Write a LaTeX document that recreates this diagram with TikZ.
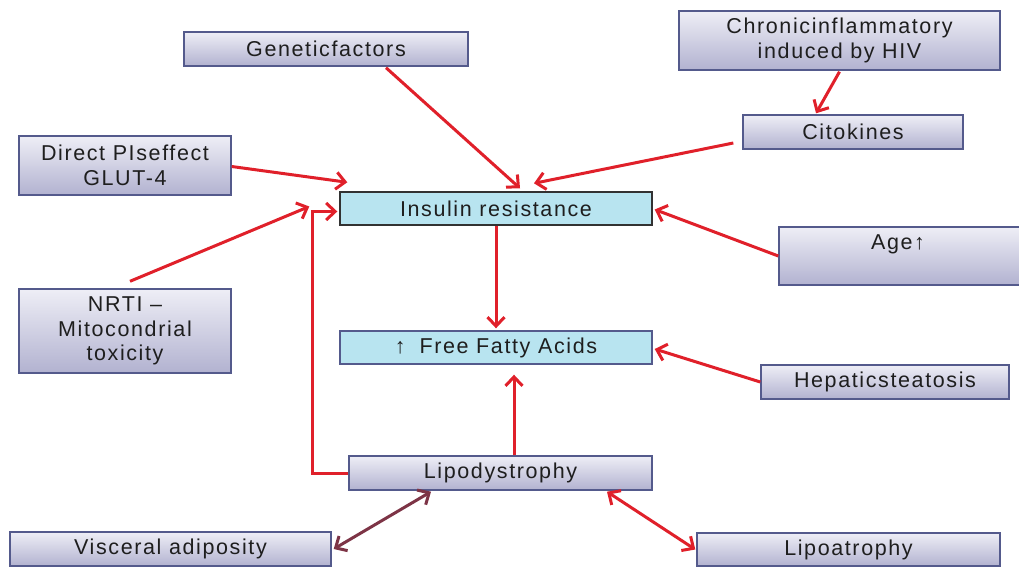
\documentclass[tikz,border=0pt]{standalone}
\usepackage{fontspec}
\setmainfont[LetterSpace=7.5]{Liberation Sans}
\usetikzlibrary{arrows.meta}
\definecolor{arrred}{RGB}{224,32,42}
\definecolor{maroonc}{RGB}{125,52,70}
\definecolor{boxtop}{RGB}{238,238,246}
\definecolor{boxbot}{RGB}{178,178,208}
\definecolor{boxline}{RGB}{84,90,140}
\definecolor{cyanfill}{RGB}{184,228,240}
\definecolor{txt}{RGB}{30,30,30}
\tikzset{
  pbox/.style={draw=boxline, line width=1.4pt, top color=boxtop, bottom color=boxbot,
    inner sep=0pt, align=center, text=txt, font=\fontsize{21.5}{24.5}\selectfont},
  cbox/.style={fill=cyanfill, line width=1.4pt, inner sep=0pt, align=center, text=txt,
    font=\fontsize{21.5}{24.5}\selectfont},
  link/.style={draw=arrred, line width=3pt, -{Straight Barb[length=9pt,width=17pt,line width=3pt]}},
  dlink/.style={link, {Straight Barb[length=9pt,width=17pt,line width=3pt]}-{Straight Barb[length=9pt,width=17pt,line width=3pt]}}
}
\begin{document}
\begin{tikzpicture}[x=1pt,y=-1pt]
\useasboundingbox (0,0) rectangle (1019,567);
% nodes
\node[pbox, minimum width=284pt, minimum height=34pt] (gen) at (326,49) {Geneticfactors};
\node[pbox, minimum width=321pt, minimum height=59pt] (chr) at (839.5,40.5) {Chronicinflammatory\\induced by HIV};
\node[pbox, minimum width=220pt, minimum height=34pt] (cyt) at (853,132) {Citokines};
\node[pbox, minimum width=212pt, minimum height=59pt] (pis) at (125,165.5) {Direct PIseffect\\GLUT-4};
\node[cbox, draw={rgb,255:red,50;green,50;blue,50}, minimum width=312pt, minimum height=33pt] (ins) at (496,208.5) {Insulin resistance};
\node[pbox, minimum width=242pt, minimum height=58pt] (age) at (900,256) {};
\node[text=txt, font=\fontsize{21.5}{24.5}\selectfont] (agetxt) at (898,244) {Age↑};
\node[pbox, minimum width=212pt, minimum height=84pt] (nrti) at (125,331) {NRTI –\\Mitocondrial\\toxicity};
\node[cbox, draw=boxline, minimum width=312pt, minimum height=33pt] (ffa) at (496,347.5) {↑\hspace{14pt}Free Fatty Acids};
\node[pbox, minimum width=248pt, minimum height=34pt] (hep) at (885,382) {Hepaticsteatosis};
\node[pbox, minimum width=303pt, minimum height=34pt] (lip) at (500.5,473) {Lipodystrophy};
\node[pbox, minimum width=321pt, minimum height=34pt] (vis) at (170.5,549) {Visceral adiposity};
\node[pbox, minimum width=303pt, minimum height=33pt] (lat) at (848.5,549.5) {Lipoatrophy};
% connectors
\draw[link] ([xshift=60pt,yshift=-1pt]gen.south) -- ([xshift=24pt,yshift=3pt]ins.north);
\draw[link] ([yshift=-1pt]pis.east) -- ([xshift=8pt,yshift=9pt]ins.north west);
\draw[link] ([xshift=5pt,yshift=7pt]nrti.north) -- ([xshift=-30pt,yshift=2pt]ins.west);
\draw[link] (lip.west) -- ++(-36,0) |- ([xshift=-2pt,yshift=-3pt]ins.west);
\draw[link] ([yshift=-1pt]chr.south) -- ([xshift=-37pt,yshift=1pt]cyt.north);
\draw[link] ([xshift=-9pt,yshift=-11pt]cyt.west) -- ([xshift=38pt,yshift=8pt]ins.north);
\draw[link] (age.west) -- ([xshift=2pt,yshift=-1pt]ins.east);
\draw[link] (ins.south) -- ([yshift=2pt]ffa.north);
\draw[link] ([xshift=13.5pt]lip.north) -- ([xshift=13.5pt,yshift=-10pt]lip.north |- ffa.south);
\draw[link] (hep.west) -- ([xshift=2pt,yshift=-1.5pt]ffa.east);
\draw[dlink, draw=maroonc] ([xshift=2pt]vis.east) -- ([xshift=-69.5pt,yshift=-1pt]lip.south);
\draw[dlink] ([xshift=106.5pt,yshift=-1pt]lip.south) -- ([xshift=-1pt]lat.west);
\end{tikzpicture}
\end{document}
